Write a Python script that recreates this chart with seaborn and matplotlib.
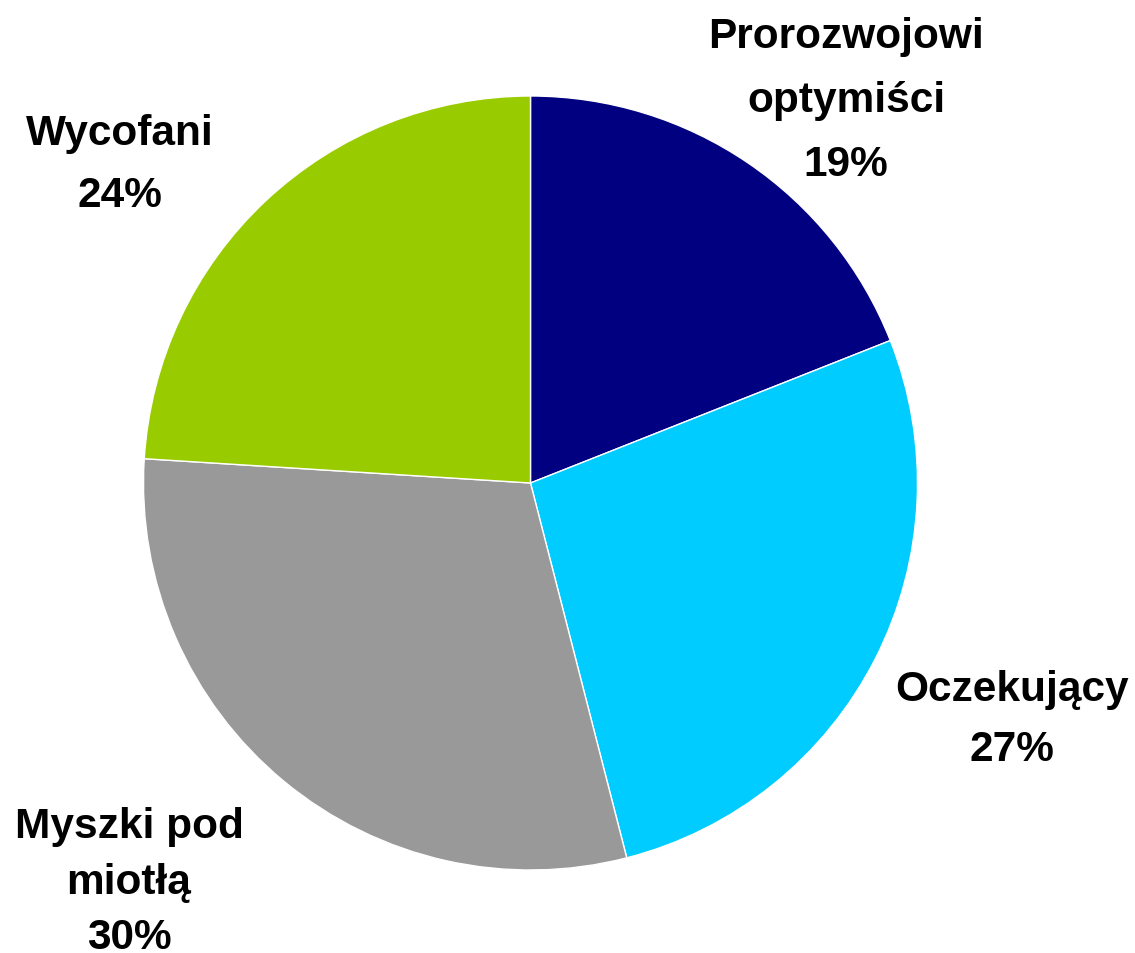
import matplotlib
matplotlib.use("Agg")
import matplotlib.pyplot as plt
import seaborn as sns

# ====== Data ======
labels = ["Prorozwojowi\noptymiści", "Oczekujący", "Myszki pod\nmiotłą", "Wycofani"]
shares = [19, 27, 30, 24]
colors = ["#000080", "#00CCFF", "#999999", "#99CC00"]

# label anchor points (pixels from top-left of the 1135x954 canvas) and line spacing
label_px = [(846, 101), (1012, 720), (129, 883), (120, 165)]
label_spacing = [1.78, 1.62, 1.5, 1.7]

W, H = 1135, 954

# ====== Style ======
sns.set_theme(style="white")
plt.rcParams["font.family"] = ["Liberation Sans", "DejaVu Sans"]

fig = plt.figure(figsize=(W / 100, H / 100), dpi=100)
ax = fig.add_axes([0, 0, 1, 1])

ax.pie(shares, colors=colors, startangle=90, counterclock=False,
       center=(530.5, H - 484), radius=387,
       wedgeprops=dict(edgecolor="white", linewidth=1))

ax.set_xlim(0, W)
ax.set_ylim(0, H)
ax.set_aspect("equal")
ax.axis("off")

for lab, val, (x, y), ls in zip(labels, shares, label_px, label_spacing):
    ax.text(x, H - y, f"{lab}\n{val}%", ha="center", va="center",
            fontsize=30.5, fontweight="bold", color="black", linespacing=ls)

fig.savefig("out.png", dpi=100, facecolor="white")
